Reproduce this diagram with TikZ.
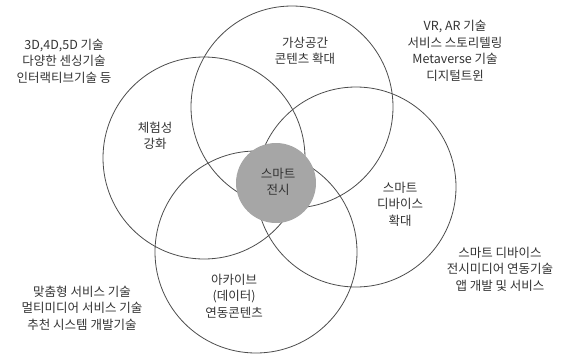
\documentclass[tikz,border=0pt]{standalone}
\usepackage{fontspec}
\setmainfont{Noto Sans CJK KR}
\begin{document}
\begin{tikzpicture}[x=1pt,y=-1pt,
  venn/.style={circle,draw=black!70,line width=0.8pt,inner sep=0pt},
  core/.style={circle,fill=black!35,inner sep=0pt,minimum size=80pt},
  lbl/.style={align=center,text=black!80,font=\fontsize{12.5}{16.5}\selectfont,inner sep=0pt}]
\useasboundingbox (0,0) rectangle (567,356);
\node[venn,minimum size=202pt] (top) at (292,107) {};
\node[venn,minimum size=202pt] (left) at (204,158) {};
\node[venn,minimum size=200pt] (right) at (356,187) {};
\node[venn,minimum size=202pt] (bottom) at (256,252) {};
\node[core] (center) at (276,183) {};
\node[lbl] (tcenter) at (278,182) {스마트\\전시};
\node[lbl] (ttop) at (305,51) {가상공간\\콘텐츠 확대};
\node[lbl] (tleft) at (155,136) {체험성\\강화};
\node[lbl] (tright) at (400,204) {스마트\\디바이스\\확대};
\node[lbl] (tbottom) at (234,296) {아카이브\\(데이터)\\연동콘텐츠};
\node[lbl] (nw) at (64,61) {3D,4D,5D 기술\\다양한 센싱기술\\인터랙티브기술 등};
\node[lbl] (ne) at (455,51) {VR, AR 기술\\서비스 스토리텔링\\Metaverse 기술\\디지털트윈};
\node[lbl] (se) at (500,269) {스마트 디바이스\\전시미디어 연동기술\\앱 개발 및 서비스};
\node[lbl] (sw) at (82,308) {맞춤형 서비스 기술\\멀티미디어 서비스 기술\\추천 시스템 개발기술};
\end{tikzpicture}
\end{document}
